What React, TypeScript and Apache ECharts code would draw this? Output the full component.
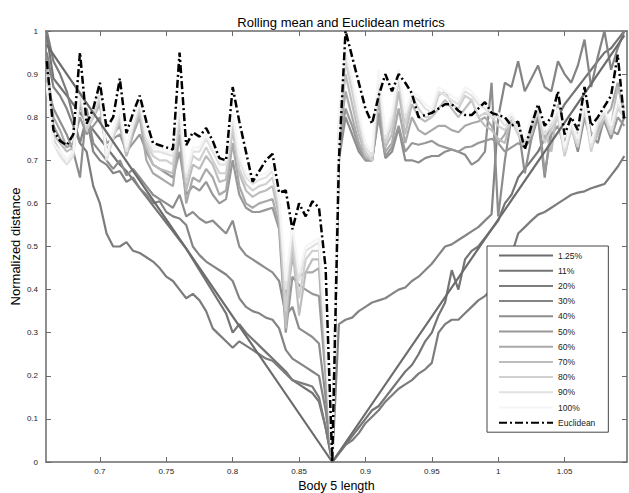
import React, { useEffect, useRef } from "react";
import * as echarts from "echarts";

// sampling grid of the body length axis
const xs: number[] = Array.from({ length: 88 }, (_, i) => +(0.66 + 0.005 * i).toFixed(3));

const xTicks = [0.7, 0.75, 0.8, 0.85, 0.9, 0.95, 1, 1.05];

const seriesNames = ["1.25%", "11%", "20%", "30%", "40%", "50%", "60%", "70%", "80%", "90%", "100%", "Euclidean"];
const seriesColors = ["#6c6c6c", "#747474", "#7c7c7c", "#848484", "#8d8d8d", "#989898", "#a9a9a9", "#bdbdbd", "#d0d0d0", "#e2e2e2", "#f5f5f5", "#000000"];

// 1.25% : pure V (vertices only)
const v125X = [0.66, 0.875, 1.095];
const v125Y = [0.968, 0, 0.99];

const y11 = [0.99,0.89,0.87,0.85,0.83,0.81,0.79,0.77,0.75,0.73,0.71,0.69,0.675,0.655,0.635,0.615,0.595,0.575,0.555,0.535,0.515,0.495,0.47,0.445,0.42,0.395,0.37,0.345,0.30,0.32,0.30,0.285,0.27,0.255,0.24,0.225,0.21,0.19,0.18,0.17,0.16,0.14,0.08,0,
  0.02,0.04,0.06,0.08,0.10,0.12,0.13,0.15,0.17,0.19,0.21,0.225,0.25,0.28,0.30,0.34,0.37,0.445,0.40,0.47,0.49,0.50,0.52,0.54,0.56,0.60,0.62,0.66,0.68,0.70,0.72,0.75,0.78,0.80,0.83,0.85,0.87,0.89,0.91,0.93,0.95,0.96,0.98,1.0];

const y20 = [1.0,0.93,0.90,0.86,0.80,0.74,0.72,0.64,0.60,0.53,0.50,0.50,0.51,0.49,0.485,0.475,0.465,0.45,0.43,0.42,0.40,0.38,0.39,0.375,0.35,0.31,0.295,0.28,0.265,0.28,0.27,0.26,0.25,0.24,0.235,0.22,0.205,0.19,0.185,0.18,0.175,0.15,0.08,0,
  0.02,0.04,0.05,0.067,0.09,0.105,0.12,0.14,0.155,0.17,0.18,0.19,0.205,0.215,0.23,0.30,0.32,0.33,0.33,0.345,0.36,0.375,0.385,0.40,0.42,0.44,0.48,0.53,0.545,0.56,0.574,0.58,0.59,0.60,0.61,0.62,0.625,0.628,0.635,0.64,0.645,0.665,0.685,0.71];

const y30 = [0.95,0.87,0.85,0.82,0.78,0.74,0.80,0.72,0.70,0.69,0.67,0.675,0.65,0.66,0.635,0.62,0.60,0.605,0.58,0.57,0.565,0.55,0.50,0.48,0.465,0.455,0.445,0.435,0.42,0.38,0.36,0.35,0.345,0.335,0.33,0.31,0.26,0.24,0.23,0.22,0.21,0.20,0.12,0,
  0.32,0.33,0.335,0.35,0.36,0.37,0.375,0.38,0.39,0.40,0.405,0.42,0.43,0.445,0.46,0.48,0.50,0.505,0.515,0.525,0.535,0.545,0.56,0.575,0.80,0.88,0.87,0.93,0.86,0.89,0.92,0.87,0.86,0.93,0.90,0.88,0.92,0.98,0.87,0.94,1.0,0.91,0.96,1.0];

const y40 = [0.88,0.82,0.79,0.76,0.72,0.66,0.82,0.74,0.72,0.70,0.68,0.70,0.665,0.68,0.66,0.64,0.62,0.61,0.60,0.59,0.62,0.57,0.58,0.565,0.555,0.56,0.545,0.53,0.56,0.50,0.48,0.47,0.46,0.45,0.44,0.42,0.34,0.36,0.31,0.30,0.29,0.275,0.15,0,
  0.70,0.80,0.76,0.72,0.70,0.70,0.81,0.705,0.72,0.775,0.70,0.70,0.695,0.705,0.71,0.71,0.72,0.725,0.72,0.713,0.69,0.70,0.72,0.88,0.57,0.70,0.80,0.78,0.67,0.75,0.80,0.66,0.78,0.80,0.74,0.78,0.72,0.80,0.76,0.74,0.80,0.77,0.76,0.80];

const y50 = [0.90,0.78,0.75,0.73,0.74,0.80,0.76,0.78,0.80,0.74,0.75,0.76,0.72,0.74,0.76,0.72,0.69,0.68,0.67,0.66,0.72,0.62,0.64,0.63,0.65,0.62,0.60,0.61,0.70,0.62,0.59,0.58,0.58,0.585,0.59,0.54,0.30,0.43,0.41,0.40,0.39,0.385,0.20,0,
  0.72,0.82,0.78,0.73,0.70,0.70,0.80,0.71,0.73,0.78,0.72,0.74,0.736,0.74,0.745,0.735,0.73,0.725,0.72,0.73,0.732,0.74,0.745,0.75,0.74,0.72,0.73,0.74,0.73,0.75,0.82,0.67,0.76,0.78,0.73,0.77,0.76,0.80,0.74,0.77,0.79,0.75,0.80,0.78];

const y60 = [0.92,0.80,0.77,0.73,0.74,0.83,0.77,0.80,0.83,0.72,0.76,0.78,0.71,0.76,0.80,0.70,0.67,0.66,0.65,0.64,0.76,0.60,0.66,0.65,0.68,0.66,0.62,0.63,0.74,0.64,0.60,0.59,0.60,0.605,0.61,0.55,0.38,0.47,0.43,0.44,0.44,0.45,0.22,0,
  0.74,0.86,0.80,0.74,0.705,0.70,0.84,0.72,0.74,0.82,0.74,0.80,0.77,0.76,0.77,0.78,0.78,0.77,0.765,0.78,0.786,0.79,0.80,0.78,0.74,0.76,0.80,0.78,0.74,0.78,0.81,0.75,0.78,0.82,0.72,0.78,0.74,0.84,0.76,0.77,0.80,0.82,0.88,0.80];

const y70 = [0.93,0.76,0.74,0.72,0.73,0.84,0.78,0.80,0.84,0.71,0.76,0.79,0.71,0.77,0.81,0.73,0.69,0.68,0.675,0.67,0.79,0.63,0.69,0.68,0.71,0.69,0.65,0.655,0.77,0.67,0.63,0.615,0.625,0.63,0.64,0.57,0.31,0.50,0.34,0.44,0.47,0.47,0.25,0,
  0.76,0.90,0.83,0.76,0.71,0.70,0.87,0.73,0.76,0.86,0.76,0.83,0.80,0.79,0.80,0.82,0.84,0.82,0.80,0.82,0.84,0.80,0.78,0.77,0.75,0.74,0.80,0.78,0.74,0.76,0.82,0.77,0.72,0.83,0.71,0.78,0.75,0.84,0.73,0.76,0.80,0.78,0.87,0.82];

const y80 = [0.90,0.75,0.72,0.70,0.72,0.85,0.77,0.80,0.85,0.70,0.75,0.80,0.72,0.78,0.82,0.74,0.71,0.70,0.70,0.69,0.80,0.65,0.71,0.70,0.73,0.70,0.67,0.67,0.78,0.68,0.645,0.63,0.64,0.645,0.66,0.59,0.35,0.52,0.38,0.47,0.49,0.49,0.27,0,
  0.78,0.93,0.86,0.78,0.72,0.70,0.89,0.74,0.78,0.89,0.78,0.85,0.82,0.80,0.80,0.85,0.86,0.83,0.82,0.85,0.84,0.80,0.81,0.80,0.78,0.77,0.79,0.76,0.73,0.78,0.81,0.74,0.77,0.80,0.71,0.77,0.73,0.82,0.72,0.78,0.80,0.76,0.82,0.80];

const y90 = [0.88,0.74,0.71,0.69,0.71,0.86,0.78,0.81,0.86,0.70,0.76,0.81,0.72,0.78,0.83,0.75,0.72,0.72,0.715,0.71,0.82,0.66,0.72,0.72,0.75,0.72,0.69,0.69,0.80,0.70,0.66,0.645,0.655,0.66,0.675,0.60,0.40,0.54,0.42,0.49,0.50,0.51,0.28,0,
  0.80,0.95,0.88,0.80,0.73,0.71,0.90,0.75,0.80,0.90,0.80,0.85,0.84,0.82,0.81,0.86,0.85,0.84,0.83,0.86,0.85,0.83,0.82,0.80,0.80,0.78,0.80,0.77,0.74,0.79,0.82,0.76,0.78,0.81,0.72,0.78,0.74,0.83,0.73,0.79,0.81,0.77,0.83,0.80];

const y100 = [0.87,0.74,0.72,0.70,0.72,0.87,0.79,0.82,0.87,0.71,0.77,0.82,0.73,0.79,0.84,0.76,0.73,0.73,0.72,0.72,0.83,0.67,0.73,0.73,0.76,0.73,0.70,0.70,0.81,0.71,0.67,0.655,0.665,0.67,0.685,0.61,0.42,0.55,0.44,0.50,0.51,0.52,0.29,0,
  0.81,0.96,0.89,0.81,0.74,0.72,0.91,0.76,0.81,0.91,0.81,0.86,0.85,0.83,0.82,0.87,0.86,0.85,0.84,0.87,0.86,0.84,0.83,0.81,0.81,0.79,0.81,0.78,0.75,0.80,0.83,0.77,0.79,0.82,0.73,0.79,0.75,0.84,0.74,0.80,0.82,0.78,0.84,0.81];

const yEuclid = [0.93,0.77,0.745,0.735,0.76,0.95,0.785,0.82,0.88,0.775,0.80,0.89,0.763,0.81,0.85,0.79,0.74,0.735,0.73,0.725,0.95,0.735,0.765,0.755,0.775,0.745,0.705,0.70,0.87,0.79,0.72,0.65,0.675,0.70,0.715,0.625,0.63,0.54,0.60,0.57,0.605,0.59,0.45,0,
  0.70,1.0,0.94,0.88,0.82,0.785,0.85,0.90,0.86,0.90,0.88,0.855,0.80,0.805,0.81,0.82,0.83,0.83,0.815,0.805,0.805,0.82,0.835,0.81,0.805,0.80,0.78,0.79,0.725,0.78,0.83,0.78,0.80,0.86,0.76,0.80,0.77,0.87,0.78,0.80,0.825,0.85,0.945,0.79];

const gridYs = [y11, y20, y30, y40, y50, y60, y70, y80, y90, y100, yEuclid];

const FONT = "Liberation Sans, Arial, sans-serif";
const AXIS_COLOR = "#6a6a6a";

export default function App() {
  const ref = useRef<HTMLDivElement>(null);
  useEffect(() => {
    if (!ref.current) return;
    const chart = echarts.init(ref.current, null, { renderer: "svg" });
    const series: any[] = [];
    series.push({
      name: seriesNames[0],
      type: "line",
      symbol: "none",
      data: v125X.map((x, i) => [x, v125Y[i]]),
      lineStyle: { color: seriesColors[0], width: 2.2 },
      itemStyle: { color: seriesColors[0] },
    });
    gridYs.forEach((ys, k) => {
      const idx = k + 1;
      const isE = idx === 11;
      series.push({
        name: seriesNames[idx],
        type: "line",
        symbol: "none",
        z: isE ? 5 : 2,
        data: xs.map((x, i) => [x, ys[i]]),
        lineStyle: isE
          ? { color: "#000", width: 2.5, type: [8, 3, 2, 3] }
          : { color: seriesColors[idx], width: 2.2 },
        itemStyle: { color: seriesColors[idx] },
      });
    });
    const axisCommon = {
      type: "value",
      axisLine: { show: true, onZero: false, lineStyle: { color: AXIS_COLOR, width: 1.5 } },
      splitLine: { show: false },
    };
    chart.setOption({
      animation: false,
      backgroundColor: "#fff",
      title: {
        text: "Rolling mean and Euclidean metrics",
        left: 336,
        textAlign: "center",
        top: 11,
        textStyle: { fontSize: 13, fontWeight: "normal", color: "#000", fontFamily: FONT },
      },
      grid: { left: 46, right: 2, top: 31, bottom: 31, outerBoundsMode: "none", containLabel: false },
      legend: {
        orient: "vertical",
        left: 487,
        top: 246,
        data: seriesNames,
        itemWidth: 54,
        itemHeight: 10,
        itemGap: 6.2,
        padding: [5, 13, 5, 11],
        backgroundColor: "#fff",
        borderColor: "#444",
        borderWidth: 1,
        borderRadius: 0,
        itemStyle: { opacity: 0 },
        textStyle: { fontSize: 8.5, color: "#222", fontFamily: FONT },
      },
      xAxis: [
        {
          ...axisCommon,
          min: 0.6594,
          max: 1.097,
          position: "bottom",
          axisTick: { inside: true, length: 5, customValues: xTicks, lineStyle: { color: AXIS_COLOR } },
          axisLabel: { customValues: xTicks, fontSize: 8, color: "#222", fontFamily: FONT, margin: 5 },
          name: "Body 5 length",
          nameLocation: "middle",
          nameGap: 17,
          nameMoveOverlap: false,
          nameTextStyle: { fontSize: 12.5, color: "#000", fontFamily: FONT, verticalAlign: "top" },
        },
        {
          ...axisCommon,
          min: 0.6594,
          max: 1.097,
          position: "top",
          axisTick: { inside: true, length: 5, customValues: xTicks, lineStyle: { color: AXIS_COLOR } },
          axisLabel: { show: false },
        },
      ],
      yAxis: [
        {
          ...axisCommon,
          min: 0,
          max: 1,
          interval: 0.1,
          position: "left",
          axisTick: { inside: true, length: 5, lineStyle: { color: AXIS_COLOR } },
          axisLabel: { fontSize: 8, color: "#222", fontFamily: FONT, margin: 8 },
          name: "Normalized distance",
          nameLocation: "middle",
          nameGap: 24,
          nameMoveOverlap: false,
          nameTextStyle: { fontSize: 13, color: "#000", fontFamily: FONT },
        },
        {
          ...axisCommon,
          min: 0,
          max: 1,
          interval: 0.1,
          position: "right",
          axisTick: { inside: true, length: 5, lineStyle: { color: AXIS_COLOR } },
          axisLabel: { show: false },
        },
      ],
      series,
    });
    return () => chart.dispose();
  }, []);
  return <div ref={ref} style={{ width: 629, height: 493, position: "absolute", left: 0, top: 0 }} />;
}
